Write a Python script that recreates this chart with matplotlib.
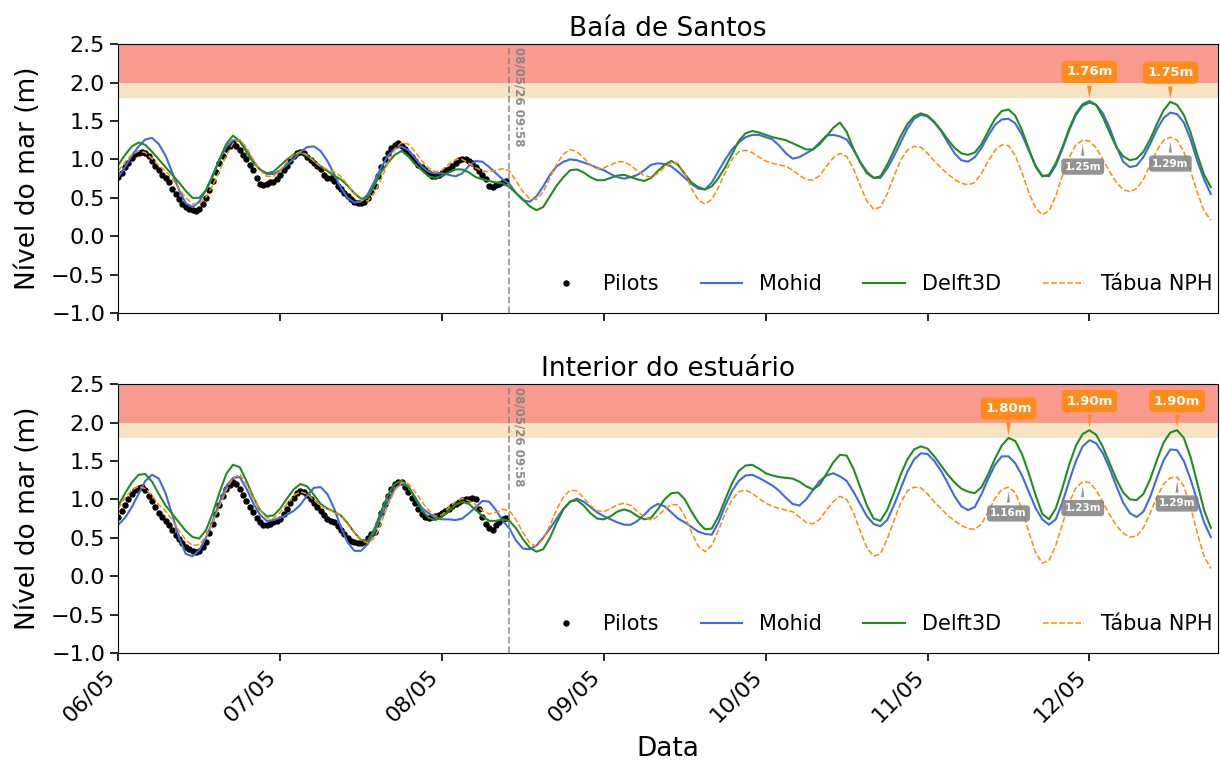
import numpy as np
import pandas as pd
import matplotlib
matplotlib.use("Agg")
import matplotlib.pyplot as plt
import matplotlib.dates as mdates

# model series are hourly from 06/05 00:00, pilots every 30 min
start = "2026-05-06 00:00"
now = pd.Timestamp("2026-05-08 09:58")
x_end = pd.Timestamp("2026-05-12 19:00")

# Baía de Santos
top_pilots = [
    0.77, 0.83, 0.90, 0.96, 1.02, 1.07, 1.09, 1.10, 1.08, 1.04, 0.98, 0.92,
    0.86, 0.80, 0.76, 0.70, 0.62, 0.55, 0.48, 0.42, 0.38, 0.35, 0.34, 0.33,
    0.36, 0.42, 0.50, 0.60, 0.72, 0.84, 0.95, 1.05, 1.13, 1.18, 1.21, 1.18,
    1.12, 1.06, 1.00, 0.93, 0.86, 0.76, 0.68, 0.67, 0.68, 0.70, 0.71, 0.75,
    0.80, 0.86, 0.92, 0.98, 1.04, 1.08, 1.10, 1.08, 1.03, 0.99, 0.95, 0.91,
    0.87, 0.80, 0.76, 0.76, 0.72, 0.66, 0.61, 0.56, 0.52, 0.48, 0.45, 0.43,
    0.43, 0.45, 0.50, 0.58, 0.66, 0.78, 0.90, 1.00, 1.08, 1.15, 1.19, 1.21,
    1.17, 1.13, 1.09, 1.03, 0.98, 0.93, 0.90, 0.86, 0.82, 0.79, 0.78, 0.80,
    0.83, 0.86, 0.88, 0.91, 0.95, 0.99, 1.00, 1.01, 0.98, 0.95, 0.90, 0.85,
    0.80, 0.74, 0.66, 0.64, 0.67, 0.68, 0.71, 0.72,
]
top_mohid = [
    0.77, 0.90, 1.05, 1.17, 1.26, 1.28, 1.20, 1.05, 0.83, 0.60, 0.43, 0.38,
    0.45, 0.60, 0.80, 1.00, 1.16, 1.25, 1.24, 1.12, 0.98, 0.87, 0.81, 0.81,
    0.86, 0.93, 1.01, 1.10, 1.16, 1.17, 1.11, 0.98, 0.81, 0.63, 0.50, 0.44,
    0.45, 0.55, 0.72, 0.90, 1.05, 1.14, 1.17, 1.12, 1.02, 0.91, 0.84, 0.82,
    0.82, 0.80, 0.78, 0.82, 0.92, 0.98, 0.97, 0.90, 0.82, 0.74, 0.68, 0.56,
    0.47, 0.45, 0.52, 0.65, 0.80, 0.91, 0.97, 1.00, 0.99, 0.96, 0.93, 0.89,
    0.86, 0.81, 0.77, 0.75, 0.77, 0.80, 0.86, 0.93, 0.95, 0.94, 0.91, 0.84,
    0.76, 0.68, 0.62, 0.61, 0.70, 0.85, 1.00, 1.13, 1.22, 1.29, 1.32, 1.32,
    1.29, 1.26, 1.18, 1.08, 1.01, 1.03, 1.08, 1.13, 1.22, 1.31, 1.32, 1.30,
    1.26, 1.13, 0.97, 0.84, 0.76, 0.76, 0.88, 1.04, 1.22, 1.40, 1.53, 1.58,
    1.56, 1.48, 1.37, 1.22, 1.08, 0.99, 0.97, 1.03, 1.15, 1.31, 1.45, 1.52,
    1.53, 1.47, 1.32, 1.12, 0.92, 0.79, 0.78, 0.92, 1.14, 1.38, 1.58, 1.70,
    1.74, 1.71, 1.60, 1.41, 1.17, 0.97, 0.90, 0.92, 1.03, 1.20, 1.39, 1.54,
    1.61, 1.59, 1.48, 1.26, 0.98, 0.74, 0.55,
]
top_delft = [
    0.93, 1.06, 1.17, 1.22, 1.19, 1.10, 1.00, 0.90, 0.80, 0.70, 0.59, 0.50,
    0.50, 0.60, 0.78, 1.00, 1.20, 1.31, 1.24, 1.10, 0.96, 0.87, 0.82, 0.84,
    0.92, 1.00, 1.06, 1.09, 1.05, 0.98, 0.91, 0.85, 0.79, 0.74, 0.66, 0.56,
    0.49, 0.50, 0.67, 0.84, 0.96, 1.06, 1.11, 1.04, 0.94, 0.86, 0.78, 0.76,
    0.79, 0.83, 0.87, 0.87, 0.83, 0.77, 0.74, 0.72, 0.70, 0.69, 0.64, 0.56,
    0.48, 0.39, 0.34, 0.38, 0.52, 0.66, 0.77, 0.86, 0.87, 0.83, 0.77, 0.73,
    0.73, 0.76, 0.79, 0.80, 0.77, 0.74, 0.72, 0.76, 0.85, 0.93, 0.98, 0.93,
    0.81, 0.70, 0.64, 0.61, 0.65, 0.76, 0.90, 1.07, 1.24, 1.34, 1.37, 1.35,
    1.32, 1.29, 1.27, 1.25, 1.21, 1.17, 1.13, 1.13, 1.20, 1.30, 1.41, 1.48,
    1.36, 1.14, 0.96, 0.82, 0.76, 0.78, 0.93, 1.11, 1.30, 1.46, 1.56, 1.60,
    1.57, 1.49, 1.38, 1.26, 1.15, 1.08, 1.06, 1.09, 1.20, 1.37, 1.53, 1.63,
    1.65, 1.57, 1.38, 1.14, 0.91, 0.78, 0.80, 0.95, 1.16, 1.40, 1.60, 1.72,
    1.76, 1.71, 1.55, 1.35, 1.16, 1.04, 0.99, 1.01, 1.10, 1.26, 1.46, 1.64,
    1.75, 1.71, 1.58, 1.35, 1.06, 0.80, 0.64,
]
top_nph = [
    0.85, 0.97, 1.06, 1.11, 1.09, 1.01, 0.92, 0.85, 0.75, 0.62, 0.50, 0.42,
    0.42, 0.51, 0.66, 0.85, 1.05, 1.21, 1.26, 1.16, 1.00, 0.86, 0.78, 0.78,
    0.86, 0.97, 1.06, 1.10, 1.06, 0.98, 0.91, 0.87, 0.84, 0.78, 0.67, 0.55,
    0.47, 0.46, 0.57, 0.75, 0.96, 1.13, 1.22, 1.20, 1.10, 0.98, 0.89, 0.84,
    0.86, 0.94, 1.00, 1.00, 0.95, 0.89, 0.85, 0.84, 0.86, 0.88, 0.85, 0.72,
    0.58, 0.49, 0.48, 0.58, 0.76, 0.94, 1.07, 1.13, 1.10, 1.02, 0.93, 0.88,
    0.89, 0.93, 0.97, 0.97, 0.92, 0.85, 0.79, 0.77, 0.82, 0.90, 0.96, 0.95,
    0.82, 0.62, 0.47, 0.42, 0.48, 0.64, 0.83, 1.00, 1.10, 1.12, 1.09, 1.03,
    0.98, 0.95, 0.93, 0.91, 0.86, 0.79, 0.74, 0.73, 0.79, 0.91, 1.02, 1.08,
    1.04, 0.88, 0.66, 0.46, 0.35, 0.38, 0.55, 0.78, 0.99, 1.12, 1.17, 1.16,
    1.08, 0.98, 0.89, 0.81, 0.74, 0.69, 0.67, 0.70, 0.82, 0.98, 1.12, 1.19,
    1.18, 1.05, 0.83, 0.57, 0.37, 0.28, 0.33, 0.52, 0.79, 1.03, 1.19, 1.25,
    1.24, 1.15, 1.00, 0.84, 0.70, 0.61, 0.58, 0.62, 0.74, 0.93, 1.12, 1.25,
    1.29, 1.25, 1.10, 0.85, 0.57, 0.33, 0.21,
]

# Interior do estuário
bot_pilots = [
    0.77, 0.85, 0.93, 1.00, 1.07, 1.12, 1.15, 1.16, 1.12, 1.05, 0.98, 0.90,
    0.82, 0.77, 0.72, 0.66, 0.60, 0.54, 0.48, 0.43, 0.38, 0.35, 0.33, 0.32,
    0.33, 0.38, 0.45, 0.56, 0.68, 0.81, 0.93, 1.04, 1.13, 1.19, 1.23, 1.20,
    1.14, 1.06, 0.98, 0.90, 0.83, 0.76, 0.70, 0.67, 0.67, 0.68, 0.70, 0.72,
    0.75, 0.81, 0.88, 0.95, 1.02, 1.08, 1.11, 1.10, 1.06, 1.00, 0.95, 0.90,
    0.85, 0.80, 0.75, 0.72, 0.70, 0.65, 0.60, 0.55, 0.50, 0.46, 0.44, 0.43,
    0.43, 0.45, 0.50, 0.55, 0.58, 0.68, 0.82, 0.94, 1.05, 1.13, 1.20, 1.23,
    1.22, 1.16, 1.10, 1.02, 0.95, 0.87, 0.81, 0.77, 0.76, 0.77, 0.78, 0.80,
    0.82, 0.85, 0.88, 0.91, 0.94, 0.97, 0.99, 1.00, 1.01, 1.02, 1.00, 0.88,
    0.77, 0.68, 0.63, 0.60, 0.66, 0.70, 0.74, 0.76,
]
bot_mohid = [
    0.67, 0.76, 0.90, 1.07, 1.24, 1.32, 1.27, 1.08, 0.80, 0.50, 0.29, 0.26,
    0.34, 0.50, 0.72, 0.96, 1.17, 1.28, 1.29, 1.14, 0.95, 0.80, 0.72, 0.73,
    0.76, 0.80, 0.85, 0.93, 1.05, 1.15, 1.16, 1.07, 0.88, 0.64, 0.44, 0.33,
    0.33, 0.42, 0.58, 0.78, 0.98, 1.14, 1.21, 1.16, 1.03, 0.89, 0.82, 0.76,
    0.74, 0.74, 0.73, 0.75, 0.82, 0.90, 0.98, 0.97, 0.86, 0.72, 0.62, 0.46,
    0.36, 0.35, 0.40, 0.50, 0.62, 0.75, 0.88, 0.97, 1.01, 0.97, 0.90, 0.83,
    0.78, 0.74, 0.70, 0.67, 0.67, 0.72, 0.80, 0.89, 0.94, 0.91, 0.83, 0.75,
    0.70, 0.64, 0.58, 0.55, 0.54, 0.70, 0.92, 1.11, 1.24, 1.31, 1.32, 1.28,
    1.23, 1.18, 1.11, 1.02, 0.94, 0.92, 1.00, 1.12, 1.24, 1.31, 1.34, 1.30,
    1.24, 1.10, 0.94, 0.78, 0.68, 0.65, 0.73, 0.92, 1.14, 1.36, 1.52, 1.60,
    1.59, 1.50, 1.37, 1.21, 1.04, 0.91, 0.86, 0.90, 1.07, 1.27, 1.45, 1.56,
    1.56, 1.47, 1.31, 1.10, 0.89, 0.74, 0.67, 0.74, 0.96, 1.24, 1.50, 1.69,
    1.77, 1.73, 1.60, 1.40, 1.17, 0.96, 0.82, 0.77, 0.84, 1.03, 1.28, 1.51,
    1.65, 1.64, 1.50, 1.26, 0.98, 0.70, 0.51,
]
bot_delft = [
    0.92, 1.08, 1.22, 1.32, 1.33, 1.23, 1.07, 0.92, 0.81, 0.70, 0.59, 0.51,
    0.49, 0.60, 0.82, 1.09, 1.33, 1.45, 1.42, 1.24, 1.03, 0.86, 0.78, 0.79,
    0.88, 1.01, 1.13, 1.20, 1.17, 1.06, 0.94, 0.88, 0.84, 0.79, 0.69, 0.57,
    0.47, 0.46, 0.62, 0.85, 1.06, 1.20, 1.24, 1.17, 1.02, 0.86, 0.76, 0.73,
    0.77, 0.85, 0.93, 0.97, 0.94, 0.86, 0.78, 0.72, 0.72, 0.74, 0.72, 0.62,
    0.48, 0.37, 0.32, 0.35, 0.50, 0.70, 0.87, 0.97, 0.99, 0.92, 0.82, 0.75,
    0.74, 0.78, 0.84, 0.87, 0.84, 0.78, 0.74, 0.76, 0.87, 1.00, 1.08, 1.09,
    1.00, 0.84, 0.70, 0.61, 0.62, 0.78, 1.00, 1.21, 1.37, 1.44, 1.45, 1.40,
    1.34, 1.31, 1.29, 1.28, 1.27, 1.23, 1.17, 1.13, 1.19, 1.33, 1.48, 1.58,
    1.57, 1.40, 1.16, 0.92, 0.75, 0.72, 0.86, 1.08, 1.32, 1.52, 1.65, 1.69,
    1.66, 1.56, 1.44, 1.32, 1.22, 1.14, 1.10, 1.08, 1.16, 1.33, 1.53, 1.70,
    1.80, 1.76, 1.59, 1.34, 1.06, 0.81, 0.74, 0.88, 1.15, 1.45, 1.70, 1.85,
    1.90, 1.84, 1.68, 1.47, 1.26, 1.09, 1.00, 0.99, 1.07, 1.26, 1.51, 1.74,
    1.87, 1.90, 1.80, 1.55, 1.21, 0.86, 0.63,
]
bot_nph = [
    0.88, 1.02, 1.12, 1.17, 1.14, 1.05, 0.93, 0.85, 0.73, 0.59, 0.47, 0.40,
    0.41, 0.52, 0.70, 0.91, 1.12, 1.28, 1.33, 1.20, 1.02, 0.86, 0.76, 0.75,
    0.83, 0.94, 1.05, 1.10, 1.07, 0.99, 0.92, 0.87, 0.84, 0.78, 0.68, 0.57,
    0.47, 0.43, 0.50, 0.70, 0.93, 1.12, 1.22, 1.20, 1.10, 0.97, 0.86, 0.78,
    0.80, 0.89, 0.97, 1.01, 0.98, 0.93, 0.85, 0.81, 0.83, 0.87, 0.85, 0.73,
    0.57, 0.43, 0.39, 0.48, 0.66, 0.87, 1.03, 1.12, 1.11, 1.02, 0.92, 0.85,
    0.84, 0.88, 0.93, 0.95, 0.92, 0.84, 0.77, 0.73, 0.78, 0.87, 0.93, 0.93,
    0.78, 0.57, 0.39, 0.32, 0.40, 0.60, 0.82, 1.00, 1.10, 1.12, 1.08, 1.01,
    0.95, 0.91, 0.88, 0.86, 0.84, 0.77, 0.70, 0.68, 0.74, 0.86, 0.97, 1.04,
    1.00, 0.83, 0.59, 0.37, 0.26, 0.29, 0.48, 0.72, 0.95, 1.11, 1.16, 1.15,
    1.07, 0.97, 0.88, 0.79, 0.72, 0.66, 0.62, 0.61, 0.68, 0.84, 1.01, 1.13,
    1.16, 1.09, 0.87, 0.58, 0.31, 0.17, 0.20, 0.40, 0.68, 0.96, 1.15, 1.23,
    1.22, 1.12, 0.96, 0.80, 0.66, 0.56, 0.51, 0.52, 0.63, 0.82, 1.03, 1.20,
    1.28, 1.29, 1.17, 0.90, 0.56, 0.26, 0.10,
]

titles = ["Baía de Santos", "Interior do estuário"]
panels = [
    (top_pilots, top_mohid, top_delft, top_nph),
    (bot_pilots, bot_mohid, bot_delft, bot_nph),
]

times = pd.date_range(start, periods=len(top_mohid), freq="h")

fig, axes = plt.subplots(2, 1, figsize=(12.2, 7.62), dpi=100, sharex=True)
fig.subplots_adjust(left=0.097, right=0.998, top=0.942, bottom=0.143, hspace=0.264)

for ax, title, (pil, moh, dft, nph) in zip(axes, titles, panels):
    dft = np.array(dft)
    nph = np.array(nph)
    pil_times = pd.date_range(start, periods=len(pil), freq="30min")

    ax.axhspan(2.0, 2.5, color="#f99a8e", lw=0, zorder=0)
    ax.axhspan(1.8, 2.0, color="#f5e3c3", lw=0, zorder=0)

    ax.plot(pil_times, pil, "o", color="black", ms=3.6, label="Pilots")
    ax.plot(times, moh, color="royalblue", lw=1.5, label="Mohid")
    ax.plot(times, dft, color="forestgreen", lw=1.5, label="Delft3D")
    ax.plot(times, nph, "--", color="darkorange", lw=1.1, label="Tábua NPH")

    ax.axvline(now, color="gray", ls="--", lw=1.3, alpha=0.8)
    ax.annotate(now.strftime("%d/%m/%y %H:%M"), (now, 2.5), xytext=(2, -2),
                textcoords="offset points", rotation=270, ha="left", va="top",
                fontsize=8.5, color="gray", fontweight="bold", alpha=0.9)

    # peaks of Delft3D above 1.7 m, and the NPH peak next to them
    for i in range(1, len(dft) - 1):
        if dft[i] >= 1.7 and dft[i] >= dft[i - 1] and dft[i] > dft[i + 1]:
            ax.annotate(f"{dft[i]:.2f}m", (times[i], dft[i]), xytext=(0, 21),
                        textcoords="offset points", ha="center", va="center",
                        fontsize=9.5, color="white", fontweight="bold",
                        bbox=dict(boxstyle="round,pad=0.35", fc="#ff8c1a", ec="none"),
                        arrowprops=dict(arrowstyle="wedge,tail_width=0.35",
                                        fc="#ff8c1a", ec="none", shrinkB=2))
            j = i - 3 + int(np.argmax(nph[i - 3:i + 4]))
            ax.annotate(f"{nph[j]:.2f}m", (times[j], nph[j]), xytext=(0, -19),
                        textcoords="offset points", ha="center", va="center",
                        fontsize=7.5, color="white", fontweight="bold",
                        bbox=dict(boxstyle="round,pad=0.3", fc="gray", ec="none", alpha=0.85),
                        arrowprops=dict(arrowstyle="wedge,tail_width=0.3",
                                        fc="gray", ec="none", alpha=0.85, shrinkB=3))

    ax.set_title(title, fontsize=19, pad=6)
    ax.set_ylabel("Nível do mar (m)", fontsize=19, labelpad=7)
    ax.set_ylim(-1.0, 2.5)
    ax.set_yticks(np.arange(-1.0, 2.51, 0.5))
    ax.tick_params(labelsize=16, length=6, width=1.2)
    ax.legend(loc="lower right", bbox_to_anchor=(1.0, 0.052), ncol=4, frameon=False,
              fontsize=15, handlelength=2.0, columnspacing=2.0,
              borderaxespad=0.0, borderpad=0.25)

axes[1].set_xlim(times[0], x_end)
axes[1].xaxis.set_major_locator(mdates.DayLocator())
axes[1].xaxis.set_major_formatter(mdates.DateFormatter("%d/%m"))
plt.setp(axes[1].get_xticklabels(), rotation=45, ha="right")
axes[1].set_xlabel("Data", fontsize=19, labelpad=7)

fig.savefig("out.png", dpi=100)
